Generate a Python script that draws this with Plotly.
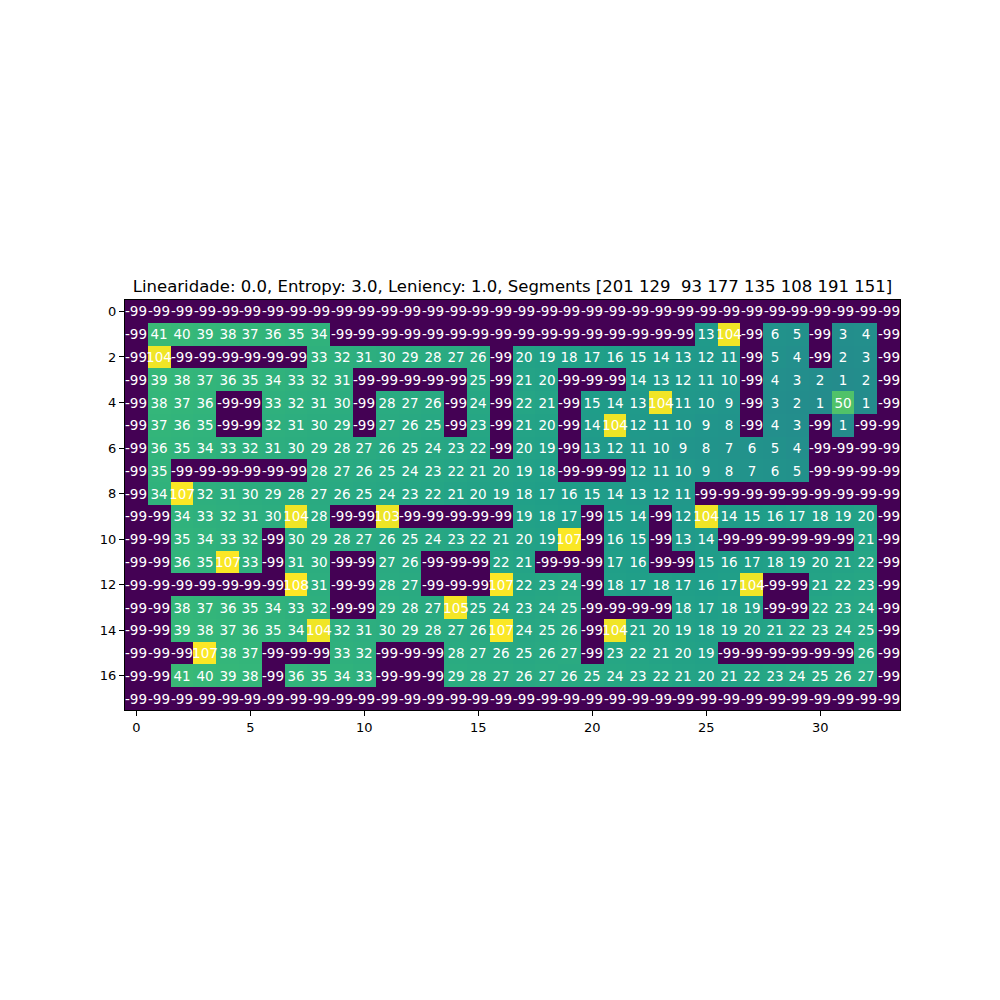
import plotly.graph_objects as go

N = -99
row_00 = [N]*34
row_01 = [N,41,40,39,38,37,36,35,34,N,N,N,N,N,N,N,N,N,N,N,N,N,N,N,N,13,104,N,6,5,N,3,4,N]
row_02 = [N,104,N,N,N,N,N,N,33,32,31,30,29,28,27,26,N,20,19,18,17,16,15,14,13,12,11,N,5,4,N,2,3,N]
row_03 = [N,39,38,37,36,35,34,33,32,31,N,N,N,N,N,25,N,21,20,N,N,N,14,13,12,11,10,N,4,3,2,1,2,N]
row_04 = [N,38,37,36,N,N,33,32,31,30,N,28,27,26,N,24,N,22,21,N,15,14,13,104,11,10,9,N,3,2,1,50,1,N]
row_05 = [N,37,36,35,N,N,32,31,30,29,N,27,26,25,N,23,N,21,20,N,14,104,12,11,10,9,8,N,4,3,N,1,N,N]
row_06 = [N,36,35,34,33,32,31,30,29,28,27,26,25,24,23,22,N,20,19,N,13,12,11,10,9,8,7,6,5,4,N,N,N,N]
row_07 = [N,35,N,N,N,N,N,N,28,27,26,25,24,23,22,21,20,19,18,N,N,N,12,11,10,9,8,7,6,5,N,N,N,N]
row_08 = [N,34,107,32,31,30,29,28,27,26,25,24,23,22,21,20,19,18,17,16,15,14,13,12,11,N,N,N,N,N,N,N,N,N]
row_09 = [N,N,34,33,32,31,30,104,28,N,N,103,N,N,N,N,N,19,18,17,N,15,14,N,12,104,14,15,16,17,18,19,20,N]
row_10 = [N,N,35,34,33,32,N,30,29,28,27,26,25,24,23,22,21,20,19,107,N,16,15,N,13,14,N,N,N,N,N,N,21,N]
row_11 = [N,N,36,35,107,33,N,31,30,N,N,27,26,N,N,N,22,21,N,N,N,17,16,N,N,15,16,17,18,19,20,21,22,N]
row_12 = [N,N,N,N,N,N,N,108,31,N,N,28,27,N,N,N,107,22,23,24,N,18,17,18,17,16,17,104,N,N,21,22,23,N]
row_13 = [N,N,38,37,36,35,34,33,32,N,N,29,28,27,105,25,24,23,24,25,N,N,N,N,18,17,18,19,N,N,22,23,24,N]
row_14 = [N,N,39,38,37,36,35,34,104,32,31,30,29,28,27,26,107,24,25,26,N,104,21,20,19,18,19,20,21,22,23,24,25,N]
row_15 = [N,N,N,107,38,37,N,N,N,33,32,N,N,N,28,27,26,25,26,27,N,23,22,21,20,19,N,N,N,N,N,N,26,N]
row_16 = [N,N,41,40,39,38,N,36,35,34,33,N,N,N,29,28,27,26,27,26,25,24,23,22,21,20,21,22,23,24,25,26,27,N]
row_17 = [N]*34

grid = [row_00,row_01,row_02,row_03,row_04,row_05,row_06,row_07,row_08,
        row_09,row_10,row_11,row_12,row_13,row_14,row_15,row_16,row_17]

x_ticks = [0, 5, 10, 15, 20, 25, 30]
y_ticks = [0, 2, 4, 6, 8, 10, 12, 14, 16]
title_text = "Linearidade: 0.0, Entropy: 3.0, Leniency: 1.0, Segments [201 129\u00a0 93 177 135 108 191 151]"

cell_text = [[str(v) for v in r] for r in grid]

fig = go.Figure(go.Heatmap(
    z=grid,
    x=list(range(34)),
    y=list(range(18)),
    text=cell_text,
    colorscale="Viridis",
    zmin=min(min(r) for r in grid),
    zmax=max(max(r) for r in grid),
    showscale=False,
    texttemplate="%{text}",
    textfont=dict(color="white", size=13.5, family="DejaVu Sans"),
    hoverinfo="z",
))

axis_common = dict(
    showgrid=False, zeroline=False, showline=True, linecolor="black",
    linewidth=1, mirror=True, ticks="outside", ticklen=5, tickcolor="black",
    tickfont=dict(size=13, family="DejaVu Sans", color="black"),
)
fig.update_xaxes(range=[-0.5, 33.5], tickvals=x_ticks, **axis_common)
fig.update_yaxes(range=[17.5, -0.5], tickvals=y_ticks, **axis_common)

fig.update_layout(
    width=1000, height=1000,
    margin=dict(l=117, r=108, t=292, b=298),
    paper_bgcolor="white", plot_bgcolor="white",
    title=dict(text=title_text, x=0.5125 - 0.008, xanchor="center", y=1 - 278/1000,
               yanchor="middle", font=dict(size=16.5, family="DejaVu Sans", color="black")),
)

fig.write_html("out.html")
